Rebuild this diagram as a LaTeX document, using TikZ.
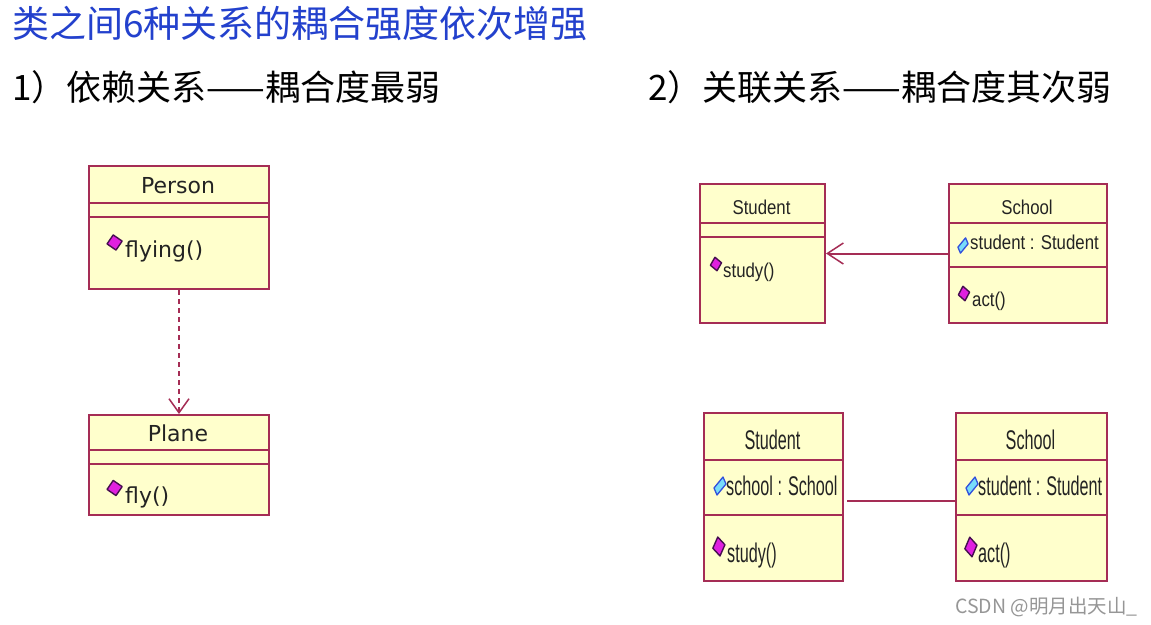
\documentclass[tikz,border=0pt]{standalone}
\usepackage{fontspec}
\setmainfont{DejaVu Sans}
\newfontfamily\cjk{Noto Sans CJK SC}
\newfontfamily\narrowA{Liberation Sans}[FakeStretch=0.84]
\newfontfamily\narrowB{Liberation Sans}[FakeStretch=0.6]
\usetikzlibrary{arrows.meta}
\definecolor{umlborder}{RGB}{165,45,85}
\definecolor{umlfill}{RGB}{255,255,204}
\definecolor{txt}{RGB}{35,35,35}
\definecolor{titleblue}{RGB}{35,65,205}
\definecolor{mfill}{RGB}{224,32,224}
\definecolor{mdark}{RGB}{70,15,80}
\definecolor{afill}{RGB}{120,220,250}
\definecolor{adark}{RGB}{50,80,220}
\definecolor{wmgray}{RGB}{150,150,150}
\newcommand{\methicon}[4]{%
  \filldraw[draw=mdark, fill=mfill, line width=1.4pt, line join=round, shift={(#1,#2)}, xscale=#3*1.12, yscale=#4*1.12]
    (-2.5,-6.75) -- (5.5,-1.25) -- (0,6.75) -- (-8,1.25) -- cycle;}
\newcommand{\attricon}[4]{%
  \filldraw[draw=adark, fill=afill, line width=1.3pt, line join=round, shift={(#1,#2)}, xscale=#3, yscale=#4]
    (3,-9) -- (6,-2) -- (-3,9) -- (-6,2) -- cycle;}
\begin{document}
\begin{tikzpicture}[x=1pt, y=-1pt,
  umlbox/.style={draw=umlborder, fill=umlfill, line width=2pt, inner sep=0pt, anchor=north west},
  sepline/.style={draw=umlborder, line width=2pt},
  conn/.style={draw=umlborder, line width=2pt},
  lbl/.style={inner sep=0pt, text=txt},
  lefttext/.style={lbl, font=\fontsize{22}{26}\selectfont},
  rtA/.style={lbl, font=\narrowA\fontsize{20}{24}\selectfont},
  rtB/.style={lbl, font=\narrowB\fontsize{27}{32}\selectfont},
  heading/.style={inner sep=0pt, anchor=base west, font=\cjk\fontsize{35}{40}\selectfont, text=black}
]
\useasboundingbox[fill=white] (0,0) rectangle (1151,624);

% Titles
\node[inner sep=0pt, anchor=base west, font=\cjk\fontsize{37}{44}\selectfont, text=titleblue] (title) at (12,37) {类之间6种关系的耦合强度依次增强};
\node[heading] (h1) at (12,100) {1）依赖关系——耦合度最弱};
\node[heading] (h2) at (648,100) {2）关联关系——耦合度其次弱};

% ---- Dependency: Person / Plane
\node[umlbox, minimum width=180pt, minimum height=123pt] (person) at (88,165) {};
\draw[sepline] (88,203) -- (268,203);
\draw[sepline] (88,217) -- (268,217);
\node[lefttext, anchor=base] (personname) at (178,193) {Person};
\methicon{116}{242.5}{1}{1}
\node[lefttext, anchor=base west] (flying) at (125,257) {flying()};

\node[umlbox, minimum width=180pt, minimum height=100pt] (plane) at (88,414) {};
\draw[sepline] (88,450) -- (268,450);
\draw[sepline] (88,464) -- (268,464);
\node[lefttext, anchor=base] (planename) at (178,441) {Plane};
\methicon{116}{488}{1}{1}
\node[lefttext, anchor=base west] (fly) at (125,503) {fly()};

\draw[conn, dash pattern=on 5pt off 4pt, -{Straight Barb[length=14pt, width=20pt, line width=1.5pt]}] (person.south) -- (plane.north);

% ---- Unidirectional association
\node[umlbox, minimum width=125pt, minimum height=139pt] (student1) at (699,183) {};
\draw[sepline] (699,223) -- (824,223);
\draw[sepline] (699,237) -- (824,237);
\node[rtA, anchor=base] (student1name) at (761.5,214) {Student};
\methicon{717}{264}{0.74}{0.89}
\node[rtA, anchor=base west] (student1op) at (723,277) {study()};

\node[umlbox, minimum width=158pt, minimum height=139pt] (school1) at (948,183) {};
\draw[sepline] (948,223) -- (1106,223);
\draw[sepline] (948,267) -- (1106,267);
\node[rtA, anchor=base] (school1name) at (1027,214) {School};
\attricon{963}{245.5}{0.85}{0.85}
\node[rtA, anchor=base west] (school1attr) at (970,249) {student : Student};
\methicon{965}{293.5}{0.74}{0.96}
\node[rtA, anchor=base west] (school1op) at (972,306) {act()};

\draw[conn, -{Straight Barb[length=16pt, width=21pt, line width=1.5pt]}] (school1.west) -- (student1.east);

% ---- Bidirectional association
\node[umlbox, minimum width=139pt, minimum height=168pt] (student2) at (703,412) {};
\draw[sepline] (703,460) -- (842,460);
\draw[sepline] (703,515) -- (842,515);
\node[rtB, anchor=base] (student2name) at (772.5,449) {Student};
\attricon{720}{486}{1}{1}
\node[rtB, anchor=base west] (student2attr) at (726,495) {school : School};
\methicon{720}{546.5}{0.8}{1.25}
\node[rtB, anchor=base west] (student2op) at (727,562) {study()};

\node[umlbox, minimum width=151pt, minimum height=168pt] (school2) at (955,412) {};
\draw[sepline] (955,460) -- (1106,460);
\draw[sepline] (955,515) -- (1106,515);
\node[rtB, anchor=base] (school2name) at (1030.5,449) {School};
\attricon{972}{486}{1}{1}
\node[rtB, anchor=base west] (school2attr) at (978,495) {student : Student};
\methicon{972}{547}{0.8}{1.3}
\node[rtB, anchor=base west] (school2op) at (978,562) {act()};

\draw[conn] ([xshift=3pt, yshift=-4pt]student2.east) -- ([yshift=-4pt]school2.west);

% Watermark
\node[inner sep=0pt, anchor=base west, font=\cjk\fontsize{19.5}{23}\selectfont, text=wmgray] (wm) at (955,613) {CSDN @明月出天山\_};
\end{tikzpicture}
\end{document}
